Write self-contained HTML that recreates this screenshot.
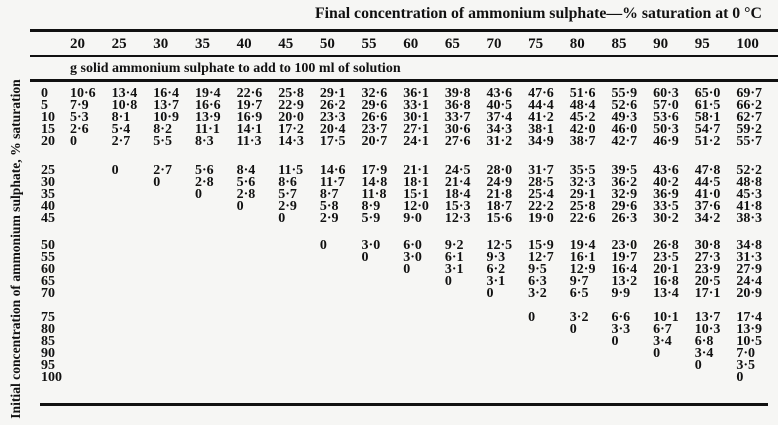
<!DOCTYPE html>
<html><head><meta charset="utf-8"><style>
html,body{margin:0;padding:0;background:#f6f6f4;}
#c{position:relative;width:778px;height:425px;overflow:hidden;font-family:"Liberation Serif",serif;font-weight:bold;color:#111;}
.t{position:absolute;white-space:nowrap;font-size:14px;line-height:12px;}
.ln{position:absolute;background:#111;}
</style></head><body>
<div id="c">
  <div class="t" style="left:315px;top:8px;font-size:15.8px;">Final concentration of ammonium sulphate—% saturation at 0 °C</div>
  <div class="ln" style="left:30px;top:29px;width:748px;height:3px;"></div>
  <div class="ln" style="left:30px;top:55px;width:748px;height:2px;"></div>
  <div class="t" style="left:70px;top:63px;font-size:14px;">g solid ammonium sulphate to add to 100 ml of solution</div>
  <div class="ln" style="left:30px;top:79px;width:748px;height:3px;"></div>
  <div class="ln" style="left:40px;top:403px;width:728px;height:3px;"></div>
  <div class="t" style="left:16px;top:249px;font-size:13.6px;transform:translate(-50%,-50%) rotate(-90deg);">Initial concentration of ammonium sulphate, % saturation</div>
</div>
<script>
const finalConc = [20,25,30,35,40,45,50,55,60,65,70,75,80,85,90,95,100];
const initialConc = [0,5,10,15,20,25,30,35,40,45,50,55,60,65,70,75,80,85,90,95,100];
const row0 = ["10·6","13·4","16·4","19·4","22·6","25·8","29·1","32·6","36·1","39·8","43·6","47·6","51·6","55·9","60·3","65·0","69·7"];
const row5 = ["7·9","10·8","13·7","16·6","19·7","22·9","26·2","29·6","33·1","36·8","40·5","44·4","48·4","52·6","57·0","61·5","66·2"];
const row10 = ["5·3","8·1","10·9","13·9","16·9","20·0","23·3","26·6","30·1","33·7","37·4","41·2","45·2","49·3","53·6","58·1","62·7"];
const row15 = ["2·6","5·4","8·2","11·1","14·1","17·2","20·4","23·7","27·1","30·6","34·3","38·1","42·0","46·0","50·3","54·7","59·2"];
const row20 = ["0","2·7","5·5","8·3","11·3","14·3","17·5","20·7","24·1","27·6","31·2","34·9","38·7","42·7","46·9","51·2","55·7"];
const row25 = ["0","2·7","5·6","8·4","11·5","14·6","17·9","21·1","24·5","28·0","31·7","35·5","39·5","43·6","47·8","52·2"];
const row30 = ["0","2·8","5·6","8·6","11·7","14·8","18·1","21·4","24·9","28·5","32·3","36·2","40·2","44·5","48·8"];
const row35 = ["0","2·8","5·7","8·7","11·8","15·1","18·4","21·8","25·4","29·1","32·9","36·9","41·0","45·3"];
const row40 = ["0","2·9","5·8","8·9","12·0","15·3","18·7","22·2","25·8","29·6","33·5","37·6","41·8"];
const row45 = ["0","2·9","5·9","9·0","12·3","15·6","19·0","22·6","26·3","30·2","34·2","38·3"];
const row50 = ["0","3·0","6·0","9·2","12·5","15·9","19·4","23·0","26·8","30·8","34·8"];
const row55 = ["0","3·0","6·1","9·3","12·7","16·1","19·7","23·5","27·3","31·3"];
const row60 = ["0","3·1","6·2","9·5","12·9","16·4","20·1","23·9","27·9"];
const row65 = ["0","3·1","6·3","9·7","13·2","16·8","20·5","24·4"];
const row70 = ["0","3·2","6·5","9·9","13·4","17·1","20·9"];
const row75 = ["0","3·2","6·6","10·1","13·7","17·4"];
const row80 = ["0","3·3","6·7","10·3","13·9"];
const row85 = ["0","3·4","6·8","10·5"];
const row90 = ["0","3·4","7·0"];
const row95 = ["0","3·5"];
const row100 = ["0"];
const rows = [row0,row5,row10,row15,row20,row25,row30,row35,row40,row45,row50,row55,row60,row65,row70,row75,row80,row85,row90,row95,row100];

const c = document.getElementById('c');
function colX(i){ return 70 + i*41.65; }
function rowY(r){ const g = Math.min(3, Math.floor(r/5)); const base=[88,165,240,312][g]; return base + (r-5*g)*12; }
function add(txt,x,y){ const d=document.createElement('div'); d.className='t'; d.textContent=txt; d.style.left=x+'px'; d.style.top=y+'px'; c.appendChild(d); return d; }

finalConc.forEach((f,i)=>{
  const d = add(String(f), colX(i), 38);
  d.style.fontSize='15px';
  
  
});
initialConc.forEach((v,r)=>{
  const d = add(String(v), 41, rowY(r));
  
  
  const vals = rows[r];
  const start = finalConc.length - vals.length;
  vals.forEach((val,k)=>{
    const cell = add(val, colX(start+k), rowY(r));
    
    
  });
});
</script>
</body></html>
